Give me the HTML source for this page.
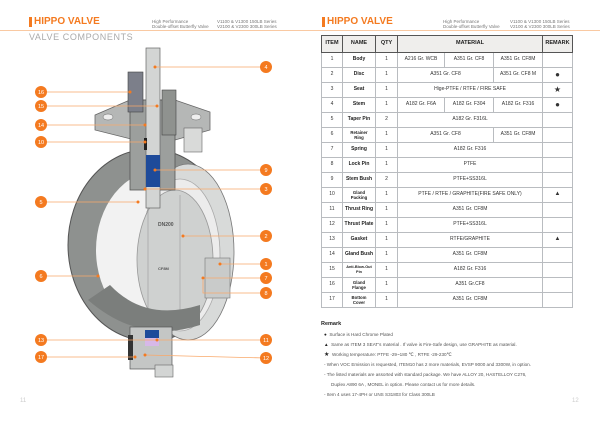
<!DOCTYPE html>
<html><head><meta charset="utf-8"><style>
body{margin:0;width:600px;height:424px;background:#fff;font-family:"Liberation Sans",sans-serif;overflow:hidden;position:relative}
.a{position:absolute;white-space:nowrap}
table{position:absolute;left:321px;top:35px;width:251px;border-collapse:collapse;table-layout:fixed}
td,th{border:1px solid #b9bcc0;height:14px;padding:0;text-align:center;font-size:5px;color:#333;line-height:5.5px}
th{background:#efeeec;font-size:5.5px;font-weight:bold;height:16px;color:#222;border:1px solid #555}
td.n{font-weight:bold;color:#222}
.rm{font-size:4.6px;color:#555;left:324px}
</style></head><body>
<div class="a" style="left:29px;top:17px;width:3px;height:10px;background:#f47a20"></div>
<div class="a" style="left:34px;top:16px;font-size:10px;font-weight:bold;color:#f47a20">HIPPO VALVE</div>
<div class="a" style="left:152px;top:19px;font-size:4.5px;color:#777;line-height:5px">High Performance<br>Double-offset Butterfly Valve</div>
<div class="a" style="left:217px;top:19px;font-size:4.5px;color:#777;line-height:5px">V1100 &amp; V1300 150LB Series<br>V2100 &amp; V2300 300LB Series</div>
<div class="a" style="left:0;top:30px;width:300px;height:1px;background:#f9c9a2"></div>
<div class="a" style="left:29px;top:32px;font-size:9px;color:#aaa;letter-spacing:0.6px">VALVE COMPONENTS</div>

<div class="a" style="left:322px;top:17px;width:3px;height:10px;background:#f47a20"></div>
<div class="a" style="left:327px;top:16px;font-size:10px;font-weight:bold;color:#f47a20">HIPPO VALVE</div>
<div class="a" style="left:443px;top:19px;font-size:4.5px;color:#777;line-height:5px">High Performance<br>Double-offset Butterfly Valve</div>
<div class="a" style="left:510px;top:19px;font-size:4.5px;color:#777;line-height:5px">V1100 &amp; V1300 150LB Series<br>V2100 &amp; V2300 300LB Series</div>
<div class="a" style="left:300px;top:30px;width:300px;height:1px;background:#f9c9a2"></div>

<svg class="a" style="left:0;top:0" width="300" height="424">
<ellipse cx="150" cy="245" rx="82" ry="96" fill="#8e918f" stroke="#555" stroke-width="1"/>
<ellipse cx="160" cy="250" rx="64" ry="80" fill="#f2f2f2"/>
<ellipse cx="188" cy="252" rx="46" ry="88" fill="#d8dad9" stroke="#777" stroke-width="0.8"/>
<ellipse cx="180" cy="255" rx="40" ry="76" fill="#ececec" stroke="#aaa" stroke-width="0.8"/>
<ellipse cx="175" cy="260" rx="38" ry="70" fill="#cfd1d0" stroke="#999" stroke-width="0.8"/>
<line x1="148" y1="210" x2="148" y2="320" stroke="#999" stroke-width="0.6"/>
<line x1="180" y1="195" x2="180" y2="325" stroke="#999" stroke-width="0.6"/>
<text x="158" y="226" font-size="5" font-weight="bold" fill="#555" font-family="Liberation Sans">DN200</text>
<text x="158" y="270" font-size="4" font-weight="bold" fill="#555" font-family="Liberation Sans">CF8M</text>
<path d="M88 300 Q140 345 200 325 L200 305 Q145 322 110 285 Z" fill="#7b7e7c"/>
<rect x="205" y="258" width="25" height="40" fill="#c9cbca" stroke="#777" stroke-width="0.6"/>
<polygon points="95,115 130,100 175,100 210,112 210,130 175,140 135,140 95,130" fill="#b5b7b6" stroke="#666" stroke-width="0.8"/>
<ellipse cx="108" cy="117" rx="5" ry="3" fill="#eee" stroke="#666" stroke-width="0.5"/>
<ellipse cx="196" cy="117" rx="5" ry="3" fill="#eee" stroke="#666" stroke-width="0.5"/>
<rect x="184" y="128" width="18" height="24" fill="#d9dad9" stroke="#666" stroke-width="0.6"/>
<rect x="130" y="100" width="45" height="90" fill="#9c9f9d" stroke="#555" stroke-width="0.8"/>
<rect x="128" y="72" width="15" height="40" fill="#7c7f8a" stroke="#444" stroke-width="0.6"/>
<rect x="162" y="90" width="14" height="45" fill="#8f928f" stroke="#444" stroke-width="0.6"/>
<rect x="146" y="48" width="14" height="160" fill="#d3d5d4" stroke="#666" stroke-width="0.7"/>
<rect x="146" y="155" width="14" height="32" fill="#1e4b9a"/>
<rect x="144" y="138" width="3" height="12" fill="#222"/>
<rect x="130" y="327" width="42" height="42" fill="#c4c6c5" stroke="#555" stroke-width="0.7"/>
<rect x="145" y="330" width="14" height="10" fill="#1e4b9a"/>
<rect x="145" y="338" width="14" height="8" fill="#d7b8e8"/>
<rect x="128" y="335" width="5" height="25" fill="#333"/>
<rect x="155" y="365" width="18" height="12" fill="#d3d5d4" stroke="#666" stroke-width="0.6"/>
<g stroke="#f9a86a" stroke-width="0.8" fill="none">
<line x1="155" y1="67" x2="266" y2="67"/><line x1="41" y1="92" x2="130" y2="92"/>
<line x1="41" y1="106" x2="157" y2="106"/><line x1="41" y1="125" x2="145" y2="125"/>
<line x1="41" y1="142" x2="145" y2="142"/><line x1="155" y1="170" x2="266" y2="170"/>
<line x1="145" y1="189" x2="266" y2="189"/><line x1="41" y1="202" x2="138" y2="202"/>
<line x1="183" y1="236" x2="266" y2="236"/><line x1="220" y1="264" x2="266" y2="264"/>
<line x1="203" y1="278" x2="266" y2="278"/><polyline points="203,280 203,293 266,293"/>
<line x1="41" y1="276" x2="98" y2="276"/><line x1="41" y1="340" x2="266" y2="340"/>
<line x1="41" y1="357" x2="135" y2="357"/><line x1="145" y1="355" x2="266" y2="358"/>
</g>
<g fill="#f47a20">
<circle cx="155" cy="67" r="1.5"/><circle cx="130" cy="92" r="1.5"/><circle cx="157" cy="106" r="1.5"/><circle cx="145" cy="125" r="1.5"/><circle cx="145" cy="142" r="1.5"/><circle cx="155" cy="170" r="1.5"/><circle cx="145" cy="189" r="1.5"/><circle cx="138" cy="202" r="1.5"/><circle cx="183" cy="236" r="1.5"/><circle cx="220" cy="264" r="1.5"/><circle cx="203" cy="278" r="1.5"/><circle cx="98" cy="276" r="1.5"/><circle cx="157" cy="340" r="1.5"/><circle cx="135" cy="357" r="1.5"/><circle cx="145" cy="355" r="1.5"/>
</g>
<g font-size="5.5" fill="#fff" text-anchor="middle" font-family="Liberation Sans">
<g fill="#f47a20"><circle cx="266" cy="67" r="6"/><circle cx="41" cy="92" r="6"/><circle cx="41" cy="106" r="6"/><circle cx="41" cy="125" r="6"/><circle cx="41" cy="142" r="6"/><circle cx="266" cy="170" r="6"/><circle cx="266" cy="189" r="6"/><circle cx="41" cy="202" r="6"/><circle cx="266" cy="236" r="6"/><circle cx="266" cy="264" r="6"/><circle cx="266" cy="278" r="6"/><circle cx="266" cy="293" r="6"/><circle cx="41" cy="276" r="6"/><circle cx="41" cy="340" r="6"/><circle cx="266" cy="340" r="6"/><circle cx="41" cy="357" r="6"/><circle cx="266" cy="358" r="6"/></g>
<text x="266" y="69">4</text><text x="41" y="94">16</text><text x="41" y="108">15</text><text x="41" y="127">14</text><text x="41" y="144">10</text><text x="266" y="172">9</text><text x="266" y="191">3</text><text x="41" y="204">5</text><text x="266" y="238">2</text><text x="266" y="266">1</text><text x="266" y="280">7</text><text x="266" y="295">8</text><text x="41" y="278">6</text><text x="41" y="342">13</text><text x="266" y="342">11</text><text x="41" y="359">17</text><text x="266" y="360">12</text>
</g>
</svg>
<div class="a" style="left:20px;top:398px;font-size:6px;color:#ccc">11</div>
<div class="a" style="left:572px;top:398px;font-size:6px;color:#ccc">12</div>

<table>
<colgroup><col style="width:21px"><col style="width:33px"><col style="width:22px"><col style="width:47px"><col style="width:49px"><col style="width:49px"><col style="width:30px"></colgroup>
<tr><th>ITEM</th><th>NAME</th><th>QTY</th><th colspan="3">MATERIAL</th><th>REMARK</th></tr>
<tr><td>1</td><td class="n">Body</td><td>1</td><td>A216 Gr. WCB</td><td>A351 Gr. CF8</td><td>A351 Gr. CF8M</td><td></td></tr>
<tr><td>2</td><td class="n">Disc</td><td>1</td><td colspan="2">A351 Gr. CF8</td><td>A351 Gr. CF8 M</td><td style="font-size:8px">●</td></tr>
<tr><td>3</td><td class="n">Seat</td><td>1</td><td colspan="3">Hige-PTFE / RTFE / FIRE SAFE</td><td style="font-size:8px">★</td></tr>
<tr><td>4</td><td class="n">Stem</td><td>1</td><td>A182 Gr. F6A</td><td>A182 Gr. F304</td><td>A182 Gr. F316</td><td style="font-size:8px">●</td></tr>
<tr><td>5</td><td class="n">Taper Pin</td><td>2</td><td colspan="3">A182 Gr. F316L</td><td></td></tr>
<tr><td>6</td><td class="n" style="font-size:4.3px">Retainer<br>Ring</td><td>1</td><td colspan="2">A351 Gr. CF8</td><td>A351 Gr. CF8M</td><td></td></tr>
<tr><td>7</td><td class="n">Spring</td><td>1</td><td colspan="3">A182 Gr. F316</td><td></td></tr>
<tr><td>8</td><td class="n">Lock Pin</td><td>1</td><td colspan="3">PTFE</td><td></td></tr>
<tr><td>9</td><td class="n">Stem Bush</td><td>2</td><td colspan="3">PTFE+SS316L</td><td></td></tr>
<tr><td>10</td><td class="n" style="font-size:4.3px">Gland<br>Packing</td><td>1</td><td colspan="3">PTFE / RTFE / GRAPHITE(FIRE SAFE ONLY)</td><td style="font-size:6px">▲</td></tr>
<tr><td>11</td><td class="n">Thrust Ring</td><td>1</td><td colspan="3">A351 Gr. CF8M</td><td></td></tr>
<tr><td>12</td><td class="n">Thrust Plate</td><td>1</td><td colspan="3">PTFE+SS316L</td><td></td></tr>
<tr><td>13</td><td class="n">Gasket</td><td>1</td><td colspan="3">RTFE/GRAPHITE</td><td style="font-size:6px">▲</td></tr>
<tr><td>14</td><td class="n">Gland Bush</td><td>1</td><td colspan="3">A351 Gr. CF8M</td><td></td></tr>
<tr><td>15</td><td class="n" style="font-size:3.8px">Anti-Blow-Out<br>Pin</td><td>1</td><td colspan="3">A182 Gr. F316</td><td></td></tr>
<tr><td>16</td><td class="n" style="font-size:4.3px">Gland<br>Flange</td><td>1</td><td colspan="3">A351 Gr.CF8</td><td></td></tr>
<tr><td>17</td><td class="n" style="font-size:4.3px">Bottom<br>Cover</td><td>1</td><td colspan="3">A351 Gr. CF8M</td><td></td></tr>
</table>

<div class="a" style="left:321px;top:321px;font-size:5.5px;font-weight:bold;color:#222">Remark</div>
<div class="a rm" style="top:332px"><span style="color:#222">●</span>&nbsp; Surface is Hard Chrome Plated</div>
<div class="a rm" style="top:342px"><span style="color:#222">▲</span>&nbsp; Same as ITEM 3 SEAT's material . If valve is Fire-Safe design, use GRAPHITE as material.</div>
<div class="a rm" style="top:351px"><span style="color:#222;font-size:6px">★</span>&nbsp; Working temperature: PTFE -29~180 ℃ , RTFE -29-230℃</div>
<div class="a rm" style="top:362px">- When VOC Emission is requested, ITEM10 has 2 more materials, EVSP 9000 and 3300W, in option.</div>
<div class="a rm" style="top:372px">- The listed materials are assorted with standard package. We have ALLOY 20, HASTELLOY C276,</div>
<div class="a rm" style="top:382px;left:331px">Duplex A890 6A , MONEL in option. Please contact us for more details.</div>
<div class="a rm" style="top:392px">- Item 4 uses 17-4PH or UNS S31803 for Class 300LB</div>
</body></html>
